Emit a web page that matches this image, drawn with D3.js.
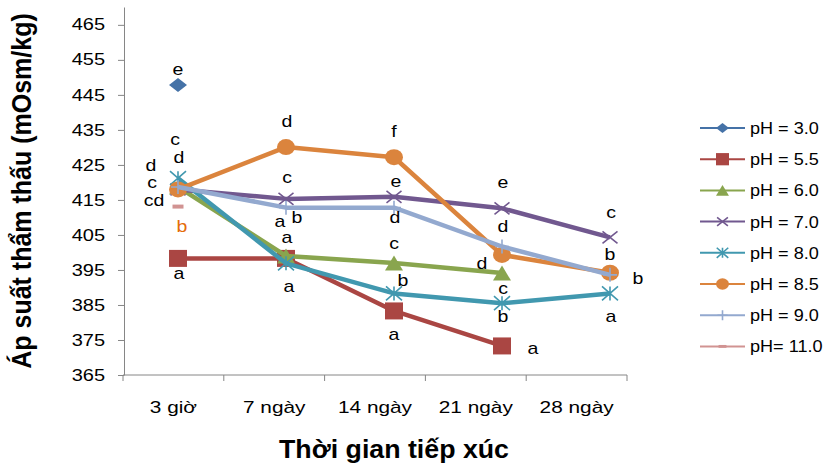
<!DOCTYPE html>
<html>
<head>
<meta charset="utf-8">
<script src="https://cdn.jsdelivr.net/npm/d3@7"></script>
<style>
    body { margin: 0; background: #fff; }
    svg { display: block; font-family: "Liberation Sans", Arial, sans-serif; }
</style>
</head>
<body>
<svg id="chart" width="830" height="465"></svg>
<script>
const categories = ['3 giờ', '7 ngày', '14 ngày', '21 ngày', '28 ngày']
const seriesNames = ['pH = 3.0', 'pH = 5.5', 'pH = 6.0', 'pH = 7.0', 'pH = 8.0', 'pH = 8.5', 'pH = 9.0', 'pH= 11.0']
const yTicks = [365, 375, 385, 395, 405, 415, 425, 435, 445, 455, 465]

const ph30 = [447.8, null, null, null, null]
const ph55 = [398.3, 398.3, 383.3, 373.3, null]
const ph60 = [418.7, 399.0, 397.0, 394.1, null]
const ph70 = [418.0, 415.3, 415.9, 412.6, 404.3]
const ph80 = [421.2, 396.9, 388.3, 385.5, 388.3]
const ph85 = [418.0, 430.1, 427.2, 399.3, 394.2]
const ph90 = [418.7, 412.8, 412.8, 401.7, 393.6]
const ph110 = [413.1, null, null, null, null]
const seriesValues = [ph30, ph55, ph60, ph70, ph80, ph85, ph90, ph110]

// significance letters next to each point
const letters30 = ['e']
const letters55 = ['a', 'a', 'a', 'a']
const letters60 = ['d', 'a', 'c', 'c']
const letters70 = ['c', 'c', 'e', 'e', 'c']
const letters80 = ['d', 'a', 'b', 'b', 'a']
const letters85 = ['c', 'd', 'f', 'd', 'b']
const letters90 = ['cd', 'b', 'd', 'd', 'b']
const letters110 = ['b']
const seriesLetters = [letters30, letters55, letters60, letters70, letters80, letters85, letters90, letters110]

// where each letter sits relative to its point (px)
const letterNudge = [
    [[0, -16]],
    [[1, 15], [-6, -37], [0, 23], [31, 2]],
    [[-27, -22], [1, -19], [0, -20], [1, 15]],
    [[-3, -50], [1, -21], [2, -15], [1, -26], [1, -25]],
    [[1, -21], [3, 23], [9, -13], [1, 13], [1, 23]],
    [[-26, -7], [1, -26], [0, -26], [-20, 8], [28, 6]],
    [[-24, 13], [11, 10], [1, 10], [1, -20], [0, -20]],
    [[4, 20]]
]

const seriesStyle = [
    { color: '#4572A7', marker: 'diamond', w: 18, h: 14 },
    { color: '#AA4643', marker: 'square', w: 18, h: 17 },
    { color: '#89A54E', marker: 'triangle', w: 18, h: 15 },
    { color: '#71588F', marker: 'x', w: 15, h: 12 },
    { color: '#4198AF', marker: 'star', w: 16, h: 14 },
    { color: '#DB843D', marker: 'circle', w: 18, h: 16 },
    { color: '#93A9CF', marker: 'plus', w: 14, h: 14 },
    { color: '#D19392', marker: 'dash', w: 11, h: 4 }
]

const style = {
    axisColor: '#868686',
    lineW: 4.5,
    font: 16,
    tickSx: 1.25,
    catSx: 1.3,
    letterSx: 1.22,
    legend: { x: 700, len: 45, y0: 128, step: 31.2, textX: 750, sx: 1.13 }
}

const svg = d3.select('#chart')

const y = d3.scaleLinear().domain([365, 470.1]).range([375, 7])
const xBand = d3.scaleBand().domain(categories).range([123, 627])
// markers in the source sit a bit right of the band centres
const xPt = d3.scalePoint().domain(categories).range([178, 610])

function markerPath(kind, w, h) {
    const a = w / 2, b = h / 2
    switch (kind) {
        case 'diamond': return `M0,${-b}L${a},0L0,${b}L${-a},0Z`
        case 'square': return `M${-a},${-b}H${a}V${b}H${-a}Z`
        case 'triangle': return `M0,${-b}L${a},${b}H${-a}Z`
        case 'circle': return `M${-a},0A${a},${b} 0 1,0 ${a},0A${a},${b} 0 1,0 ${-a},0Z`
        case 'x': return `M${-a},${-b}L${a},${b}M${-a},${b}L${a},${-b}`
        case 'star': return `M${-a},${-b}L${a},${b}M${-a},${b}L${a},${-b}M0,${-b}V${b}`
        case 'plus': return `M${-a},0H${a}M0,${-b}V${b}`
        case 'dash': return `M${-a},${-b}H${a}V${b}H${-a}Z`
    }
}

function isStroked(kind) {
    return kind == 'x' || kind == 'star' || kind == 'plus'
}

function drawMarker(root, st, scale) {
    const stroked = isStroked(st.marker)
    return root.append('path')
        .attr('d', markerPath(st.marker, st.w * scale, st.h * scale))
        .attr('fill', stroked ? 'none' : st.color)
        .attr('stroke', stroked ? st.color : 'none')
        .attr('stroke-width', 1.6)
}

// y axis
const yAxisG = svg.append('g')
    .attr('transform', 'translate(124,0)')
    .call(d3.axisLeft(y).tickValues(yTicks).tickSize(6).tickSizeOuter(0))
yAxisG.select('.domain').attr('stroke', style.axisColor)
yAxisG.selectAll('.tick line').attr('stroke', style.axisColor)
yAxisG.selectAll('.tick text')
    .attr('font-size', style.font)
    .attr('font-family', null)
    .attr('fill', '#000')
    .attr('x', -19 / style.tickSx)
    .attr('transform', `scale(${style.tickSx},1)`)

// x axis, ticks on category boundaries
const xAxisG = svg.append('g')
xAxisG.append('line')
    .attr('x1', xBand.range()[0]).attr('x2', xBand.range()[1])
    .attr('y1', 375).attr('y2', 375)
    .attr('stroke', style.axisColor)
xAxisG.selectAll('.xTick')
    .data(categories.map(c => xBand(c)).concat([xBand.range()[1]]))
    .join('line')
    .classed('xTick', true)
    .attr('x1', d => d).attr('x2', d => d)
    .attr('y1', 375).attr('y2', 381)
    .attr('stroke', style.axisColor)
xAxisG.selectAll('.xLabel')
    .data(categories)
    .join('text')
    .classed('xLabel', true)
    .attr('transform', d => `translate(${xBand(d) + xBand.bandwidth() / 2},413) scale(${style.catSx},1)`)
    .attr('text-anchor', 'middle')
    .attr('font-size', style.font)
    .text(d => d)

// axis titles
svg.append('text')
    .attr('transform', 'translate(394,458) scale(1.07,1)')
    .attr('text-anchor', 'middle')
    .attr('font-size', 25)
    .attr('font-weight', 'bold')
    .text('Thời gian tiếp xúc')

svg.append('text')
    .attr('transform', 'translate(31,191) rotate(-90) scale(1,1.12)')
    .attr('text-anchor', 'middle')
    .attr('font-size', 25)
    .attr('font-weight', 'bold')
    .text('Áp suất thẩm thấu (mOsm/kg)')

// series
const line = d3.line()
    .defined(d => d[1] != null)
    .x(d => xPt(d[0]))
    .y(d => y(d[1]))

const seriesG = svg.append('g')
seriesValues.forEach((vals, i) => {
    const st = seriesStyle[i]
    const pts = categories.map((c, j) => [c, vals[j]])
    const g = seriesG.append('g')
    g.append('path')
        .datum(pts)
        .attr('d', line)
        .attr('fill', 'none')
        .attr('stroke', st.color)
        .attr('stroke-width', style.lineW)
        .attr('stroke-linejoin', 'round')
    pts.filter(d => d[1] != null).forEach(d => {
        drawMarker(g, st, 1).attr('transform', `translate(${xPt(d[0])},${y(d[1])})`)
    })
})

// letters
const letterG = svg.append('g')
seriesLetters.forEach((lets, i) => {
    lets.forEach((t, j) => {
        if (t == null) return
        const v = seriesValues[i][j]
        const nudge = letterNudge[i][j]
        letterG.append('text')
            .attr('transform', `translate(${xPt(categories[j]) + nudge[0]},${y(v) + nudge[1]}) scale(${style.letterSx},1)`)
            .attr('dy', '0.35em')
            .attr('text-anchor', 'middle')
            .attr('font-size', style.font)
            .attr('fill', i == 7 ? '#E46C0A' : '#000')
            .text(t)
    })
})

// legend
const lg = style.legend
const legendG = svg.append('g')
const rows = legendG.selectAll('g')
    .data(seriesNames)
    .join('g')
    .attr('transform', (d, i) => `translate(0,${lg.y0 + i * lg.step})`)
rows.append('line')
    .attr('x1', lg.x).attr('x2', lg.x + lg.len)
    .attr('stroke', (d, i) => seriesStyle[i].color)
    .attr('stroke-width', 2)
rows.each(function (d, i) {
    drawMarker(d3.select(this), seriesStyle[i], 0.72)
        .attr('transform', `translate(${lg.x + lg.len / 2},0)`)
})
rows.append('text')
    .attr('transform', `translate(${lg.textX},6) scale(${lg.sx},1)`)
    .attr('font-size', style.font)
    .text(d => d)
</script>
</body>
</html>
